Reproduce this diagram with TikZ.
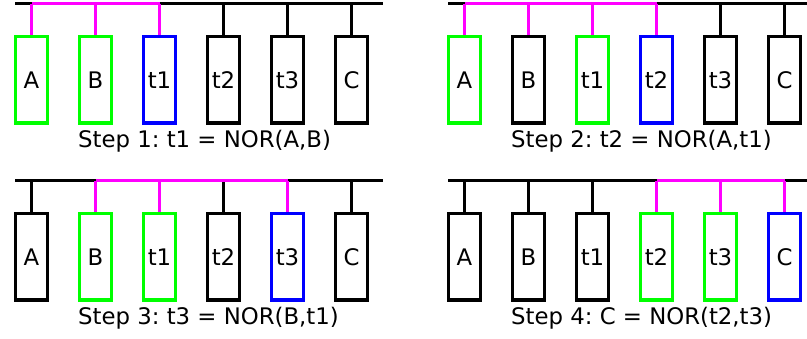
\documentclass[tikz,border=0pt]{standalone}
\usepackage{fontspec}
\setmainfont{DejaVu Sans}
\frenchspacing
\definecolor{col0}{RGB}{0,0,0}
\definecolor{col1}{RGB}{0,255,0}
\definecolor{col2}{RGB}{0,0,255}
\definecolor{col3}{RGB}{255,0,255}
\tikzset{
  reg/.style={draw=#1, line width=3.2pt, minimum width=32pt, minimum height=86.5pt,
    inner sep=0pt, font=\fontsize{22.8}{26}\selectfont},
  reg/.default=col0,
  wire/.style={draw=#1, line width=3.2pt},
  wire/.default=col0,
  caption/.style={anchor=base west, inner sep=0pt, font=\fontsize{22.8}{26}\selectfont}
}
\begin{document}
\begin{tikzpicture}[x=1pt,y=-1pt]
\useasboundingbox (0,0) rectangle (807,338);
\foreach \p/\xo/\yo/\xe/\bc/\sc/\mf/\mt/\cap in {
  1/0/0/383/{1,1,2,0,0,0}/{3,3,3,0,0,0}/1/3/{Step 1: t1 = NOR(A,B)},
  2/433/0/820/{1,0,1,2,0,0}/{3,3,3,3,0,0}/1/4/{Step 2: t2 = NOR(A,t1)},
  3/0/177/383/{0,1,1,0,2,0}/{0,3,3,0,3,0}/2/5/{Step 3: t3 = NOR(B,t1)},
  4/433/177/820/{0,0,0,1,1,2}/{0,0,0,3,3,3}/4/6/{Step 4: C = NOR(t2,t3)}}{
  \begin{scope}[shift={(\xo,\yo)}]
    \coordinate (bs\p) at (15,3.5);
    \coordinate (be\p) at (\xe-\xo,3.5);
    \draw[wire] (bs\p) -- (be\p);
    \foreach \lab [count=\i] in {A,B,t1,t2,t3,C}{
      \pgfmathtruncatemacro{\bcol}{{\bc}[\i-1]}
      \pgfmathtruncatemacro{\scol}{{\sc}[\i-1]}
      \node[reg=col\bcol] (r\p-\i) at (31.5+64*\i-64,79.75) {\lab};
      \coordinate (t\p-\i) at (31.5+64*\i-64,3.5);
      \draw[wire=col\scol] (t\p-\i) -- (r\p-\i.north);
    }
    \draw[wire=col3] (t\p-\mf) -- (t\p-\mt);
    \node[caption] (c\p) at (78,147) {\cap};
  \end{scope}
}
\end{tikzpicture}
\end{document}
